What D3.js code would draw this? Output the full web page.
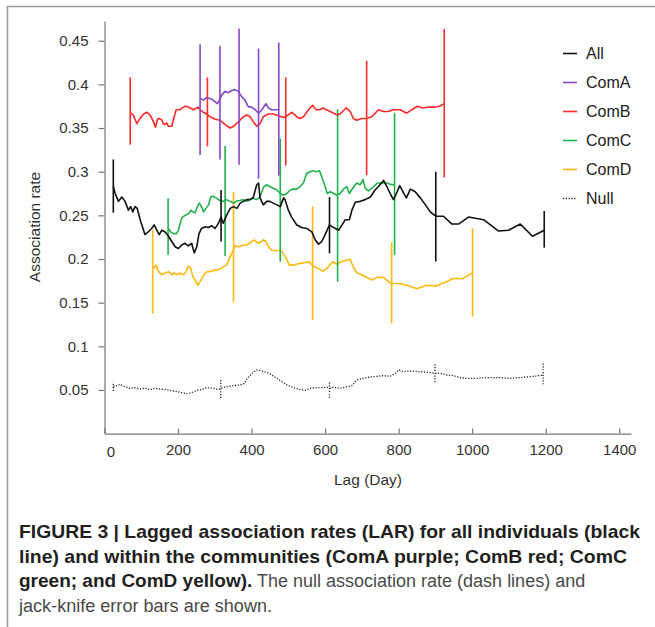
<!DOCTYPE html>
<html>
<head>
<meta charset="utf-8">
<script src="https://cdn.jsdelivr.net/npm/d3@7"></script>
<style>
  body { margin: 0; background: #fff; }
  svg { display: block; }
</style>
</head>
<body>
<div id="chart"></div>
<script>
// lag (days), association rate
var lagAll = [[24,0.283],[29,0.275],[38,0.266],[47,0.271],[56,0.266],[65,0.256],[71,0.260],[77,0.254],[83,0.260],[89,0.258],[97,0.245],[110,0.228],[119,0.231],[128,0.235],[135,0.239],[142,0.233],[149,0.228],[156,0.233],[165,0.231],[174,0.226],[183,0.220],[192,0.214],[201,0.212],[210,0.216],[219,0.218],[228,0.215],[237,0.218],[244,0.207],[251,0.214],[257,0.229],[264,0.235],[274,0.237],[283,0.236],[292,0.238],[301,0.235],[310,0.241],[317,0.248],[323,0.241],[332,0.250],[342,0.258],[351,0.260],[360,0.258],[369,0.264],[378,0.266],[387,0.268],[396,0.268],[405,0.271],[414,0.285],[419,0.287],[423,0.270],[432,0.262],[441,0.266],[450,0.266],[459,0.264],[469,0.262],[478,0.260],[487,0.270],[491,0.268],[500,0.256],[509,0.248],[523,0.239],[536,0.236],[550,0.235],[564,0.231],[573,0.222],[582,0.217],[591,0.220],[600,0.228],[612,0.239],[623,0.236],[637,0.233],[646,0.239],[655,0.245],[666,0.245],[673,0.256],[682,0.265],[696,0.266],[709,0.268],[723,0.271],[736,0.279],[745,0.283],[759,0.290],[768,0.283],[777,0.275],[786,0.268],[796,0.277],[803,0.284],[812,0.277],[821,0.270],[832,0.280],[845,0.277],[859,0.270],[873,0.262],[886,0.254],[901,0.249],[922,0.249],[945,0.240],[963,0.240],[990,0.248],[1031,0.245],[1072,0.232],[1099,0.233],[1131,0.240],[1164,0.226],[1196,0.233]];
var lagComA = [[260,0.384],[269,0.382],[278,0.385],[292,0.383],[301,0.380],[307,0.378],[313,0.382],[319,0.388],[328,0.392],[337,0.3905],[346,0.393],[355,0.394],[364,0.392],[373,0.386],[382,0.382],[391,0.3745],[400,0.374],[410,0.371],[419,0.367],[428,0.371],[439,0.378],[446,0.373],[455,0.371],[464,0.371],[473,0.371]];
var lagComB = [[71,0.367],[78,0.365],[88,0.355],[97,0.361],[106,0.366],[115,0.368],[124,0.365],[133,0.357],[139,0.351],[144,0.360],[149,0.361],[156,0.359],[160,0.355],[165,0.354],[169,0.356],[174,0.352],[178,0.352],[183,0.352],[187,0.359],[195,0.371],[205,0.371],[219,0.375],[228,0.374],[242,0.371],[255,0.374],[260,0.371],[269,0.368],[278,0.366],[287,0.363],[301,0.360],[314,0.359],[328,0.354],[342,0.350],[351,0.352],[364,0.357],[378,0.363],[387,0.365],[396,0.363],[405,0.357],[414,0.352],[423,0.355],[432,0.363],[446,0.366],[459,0.366],[473,0.364],[487,0.362],[496,0.364],[509,0.368],[523,0.363],[532,0.361],[541,0.363],[555,0.371],[566,0.376],[576,0.371],[586,0.371],[594,0.373],[603,0.371],[614,0.369],[623,0.367],[634,0.365],[643,0.367],[657,0.373],[668,0.369],[677,0.361],[686,0.359],[700,0.361],[713,0.361],[727,0.363],[745,0.371],[759,0.369],[772,0.369],[786,0.371],[804,0.371],[822,0.367],[836,0.371],[851,0.375],[866,0.373],[881,0.374],[899,0.374],[911,0.375],[924,0.378]];
var lagComC = [[174,0.235],[180,0.231],[187,0.229],[196,0.229],[201,0.233],[210,0.247],[219,0.250],[228,0.2515],[235,0.256],[240,0.254],[246,0.253],[253,0.260],[258,0.264],[264,0.260],[269,0.254],[276,0.258],[283,0.262],[289,0.271],[296,0.272],[305,0.2695],[314,0.267],[323,0.266],[331,0.268],[342,0.266],[351,0.264],[360,0.2665],[369,0.267],[378,0.268],[387,0.266],[396,0.268],[405,0.2695],[414,0.268],[423,0.271],[432,0.282],[441,0.285],[450,0.283],[459,0.281],[469,0.279],[478,0.275],[487,0.273],[496,0.275],[505,0.279],[514,0.280],[523,0.280],[532,0.283],[541,0.287],[550,0.298],[559,0.300],[568,0.301],[577,0.300],[585,0.301],[591,0.294],[600,0.283],[606,0.275],[614,0.277],[623,0.275],[632,0.273],[641,0.275],[650,0.280],[659,0.283],[666,0.275],[675,0.281],[686,0.287],[695,0.285],[703,0.291],[709,0.281],[718,0.278],[730,0.282],[742,0.287],[751,0.287],[759,0.287],[768,0.287],[777,0.2855],[788,0.285]];
var lagComD = [[133,0.189],[140,0.193],[147,0.1855],[156,0.182],[165,0.184],[174,0.1855],[183,0.182],[189,0.184],[198,0.182],[205,0.184],[215,0.182],[222,0.1855],[228,0.192],[235,0.189],[240,0.180],[246,0.176],[254,0.170],[258,0.173],[264,0.177],[271,0.182],[278,0.1855],[287,0.1855],[296,0.187],[305,0.187],[316,0.189],[323,0.191],[332,0.193],[340,0.201],[346,0.2065],[351,0.210],[355,0.215],[364,0.214],[371,0.215],[378,0.216],[387,0.216],[394,0.218],[401,0.220],[407,0.222],[412,0.220],[419,0.218],[426,0.220],[432,0.222],[439,0.220],[446,0.214],[455,0.210],[469,0.2095],[478,0.210],[485,0.207],[494,0.201],[503,0.193],[514,0.193],[523,0.194],[532,0.195],[546,0.196],[555,0.197],[568,0.192],[582,0.189],[595,0.186],[609,0.191],[621,0.197],[632,0.194],[645,0.197],[654,0.198],[668,0.1996],[677,0.191],[686,0.184],[700,0.182],[713,0.179],[727,0.176],[736,0.178],[745,0.179],[759,0.179],[772,0.174],[781,0.172],[795,0.172],[808,0.1714],[822,0.170],[836,0.168],[849,0.166],[863,0.168],[876,0.170],[890,0.1695],[904,0.169],[917,0.172],[931,0.174],[944,0.177],[958,0.178],[972,0.177],[985,0.180],[999,0.184]];
var lagNull = [[24,0.0538],[29,0.0538],[42,0.0564],[56,0.0538],[69,0.0519],[83,0.0526],[97,0.0511],[110,0.0519],[124,0.0503],[137,0.0519],[151,0.0511],[169,0.0503],[187,0.0488],[205,0.0473],[224,0.0457],[237,0.0469],[251,0.0496],[264,0.0503],[278,0.0526],[296,0.0519],[310,0.0503],[316,0.0519],[332,0.0538],[351,0.0549],[369,0.0557],[380,0.0572],[387,0.0625],[401,0.0690],[414,0.0729],[428,0.0717],[441,0.0702],[455,0.0671],[469,0.0633],[482,0.0595],[496,0.0557],[514,0.0526],[532,0.0503],[546,0.0496],[559,0.0519],[577,0.0526],[605,0.0530],[614,0.0519],[623,0.0530],[641,0.0519],[659,0.0538],[673,0.0549],[686,0.0614],[704,0.0633],[722,0.0648],[741,0.0656],[759,0.0664],[777,0.0656],[791,0.0690],[800,0.0729],[813,0.0709],[831,0.0717],[859,0.0709],[881,0.0702],[899,0.0690],[913,0.0690],[931,0.0671],[949,0.0664],[967,0.0641],[986,0.0633],[1013,0.0633],[1040,0.0641],[1076,0.0641],[1103,0.0633],[1131,0.0641],[1167,0.0656],[1192,0.0671]];

// jack-knife error bars: lag, low, high
var barsAll = [[24,0.253,0.314],[317,0.220,0.279],[612,0.2065,0.271],[901,0.197,0.300],[1196,0.213,0.255]];
var barsComA = [[260,0.319,0.446],[314,0.314,0.444],[366,0.308,0.464],[419,0.292,0.441],[474,0.2955,0.448]];
var barsComB = [[70,0.331,0.408],[280,0.329,0.408],[493,0.307,0.408],[713,0.296,0.427],[924,0.2935,0.4635]];
var barsComC = [[173,0.2046,0.2695],[328,0.2034,0.3294],[478,0.197,0.338],[634,0.174,0.3715],[789,0.2046,0.367]];
var barsComD = [[131,0.137,0.234],[351,0.151,0.277],[566,0.130,0.2607],[781,0.1263,0.219],[1001,0.134,0.235]];
var barsNull = [[24,0.0488,0.0587],[316,0.0408,0.0625],[612,0.0412,0.0603],[899,0.0588,0.0794],[1193,0.0564,0.0817]];

var seriesNames = ['All', 'ComA', 'ComB', 'ComC', 'ComD', 'Null'];
var xTicks = [0, 200, 400, 600, 800, 1000, 1200, 1400];
var yTicks = [0.05, 0.1, 0.15, 0.2, 0.25, 0.3, 0.35, 0.4, 0.45];
var yTickLabels = ['0.05', '0.1', '0.15', '0.2', '0.25', '0.3', '0.35', '0.4', '0.45'];

var width = 655;
var height = 627;
var svg;

var series = [
  {name: 'Null', data: lagNull, bars: barsNull, color: '#222', dash: '1.2,1.6', w: 1.3},
  {name: 'ComD', data: lagComD, bars: barsComD, color: '#ffb90f', w: 1.6},
  {name: 'ComC', data: lagComC, bars: barsComC, color: '#22b14c', w: 1.6},
  {name: 'All',  data: lagAll,  bars: barsAll,  color: '#111', w: 1.6},
  {name: 'ComB', data: lagComB, bars: barsComB, color: '#ff2a2a', w: 1.6},
  {name: 'ComA', data: lagComA, bars: barsComA, color: '#8447c6', w: 1.6}
];
var colorOf = {};
series.forEach(function (s) { colorOf[s.name] = s; });

svg = d3.select('#chart').append('svg')
    .attr('width', width)
    .attr('height', height);

// page frame
svg.append('path')
    .attr('d', 'M7.5,627 L7.5,6.5 L655,6.5')
    .attr('fill', 'none')
    .attr('stroke', '#9a9a9a')
    .attr('stroke-width', 1.5);

var x = d3.scaleLinear().domain([0, 1432]).range([104.5, 631]);
var y = d3.scaleLinear().domain([0, 0.4726]).range([433.6, 21]);

var font = '"Liberation Sans", Arial, sans-serif';

// axes
var yAxis = svg.append('g')
    .attr('transform', 'translate(104.5,0)')
    .call(d3.axisLeft(y).tickValues(yTicks).tickSize(6).tickSizeOuter(0).tickPadding(10)
      .tickFormat(function (d, i) { return yTickLabels[i]; }));
var xAxis = svg.append('g')
    .attr('transform', 'translate(0,433.6)')
    .call(d3.axisBottom(x).tickValues(xTicks).tickSizeInner(-5).tickSizeOuter(0).tickPadding(11)
      .tickFormat(d3.format('d')));

[yAxis, xAxis].forEach(function (g) {
  g.select('.domain').attr('stroke', '#777').attr('stroke-width', 1.2);
  g.selectAll('.tick line').attr('stroke', '#777').attr('stroke-width', 1.2);
  g.selectAll('.tick text')
      .style('font-family', font)
      .style('font-size', '15px')
      .attr('fill', '#333');
});
xAxis.selectAll('.tick').filter(function (d) { return d === 0; })
    .select('text').attr('dx', 6).attr('dy', '0.85em');

svg.append('text')
    .attr('x', 368)
    .attr('y', 485)
    .attr('text-anchor', 'middle')
    .style('font-family', font)
    .style('font-size', '15.5px')
    .attr('fill', '#333')
    .text('Lag (Day)');

svg.append('text')
    .attr('transform', 'translate(40,227) rotate(-90)')
    .attr('text-anchor', 'middle')
    .style('font-family', font)
    .style('font-size', '15.5px')
    .attr('fill', '#333')
    .text('Association rate');

// lines and error bars
var line = d3.line()
    .x(function (d) { return x(d[0]); })
    .y(function (d) { return y(d[1]); });

series.forEach(function (s) {
  svg.append('path')
      .datum(s.data)
      .attr('d', line)
      .attr('fill', 'none')
      .attr('stroke', s.color)
      .attr('stroke-width', s.w)
      .attr('stroke-linejoin', 'round')
      .attr('stroke-dasharray', s.dash || null);
  svg.selectAll(null)
      .data(s.bars)
      .enter().append('line')
      .attr('x1', function (d) { return x(d[0]); })
      .attr('x2', function (d) { return x(d[0]); })
      .attr('y1', function (d) { return y(d[1]); })
      .attr('y2', function (d) { return y(d[2]); })
      .attr('stroke', s.color)
      .attr('stroke-width', s.w)
      .attr('stroke-dasharray', s.dash || null);
});

// legend
var legend = svg.append('g');
seriesNames.forEach(function (name, i) {
  var s = colorOf[name];
  var ly = 53.5 + i * 29;
  legend.append('line')
      .attr('x1', 563).attr('x2', 577)
      .attr('y1', ly).attr('y2', ly)
      .attr('stroke', s.color)
      .attr('stroke-width', 1.6)
      .attr('stroke-dasharray', s.dash || null);
  legend.append('text')
      .attr('x', 586)
      .attr('y', ly)
      .attr('dy', '0.35em')
      .style('font-family', font)
      .style('font-size', '16px')
      .attr('fill', '#222')
      .text(name);
});

// caption
var cap = svg.append('g').style('font-family', font);
function capLine(yy, parts, len) {
  var t = cap.append('text').attr('x', 19).attr('y', yy);
  parts.forEach(function (p) {
    t.append('tspan')
        .attr('font-weight', p[1] ? 'bold' : 'normal')
        .style('font-size', p[1] ? '19px' : '18px')
        .attr('fill', p[1] ? '#231f20' : '#4a4a4a')
        .text(p[0]);
  });
  if (len) t.attr('textLength', len).attr('lengthAdjust', 'spacingAndGlyphs');
  return t;
}
capLine(538, [['FIGURE 3 | Lagged association rates (LAR) for all individuals (black', true]], 621);
capLine(562.5, [['line) and within the communities (ComA purple; ComB red; ComC', true]], 608);
capLine(587, [['green; and ComD yellow).', true], ['  The null association rate (dash lines) and', false]]);
capLine(611.5, [['jack-knife error bars are shown.', false]], 253);
</script>
</body>
</html>
